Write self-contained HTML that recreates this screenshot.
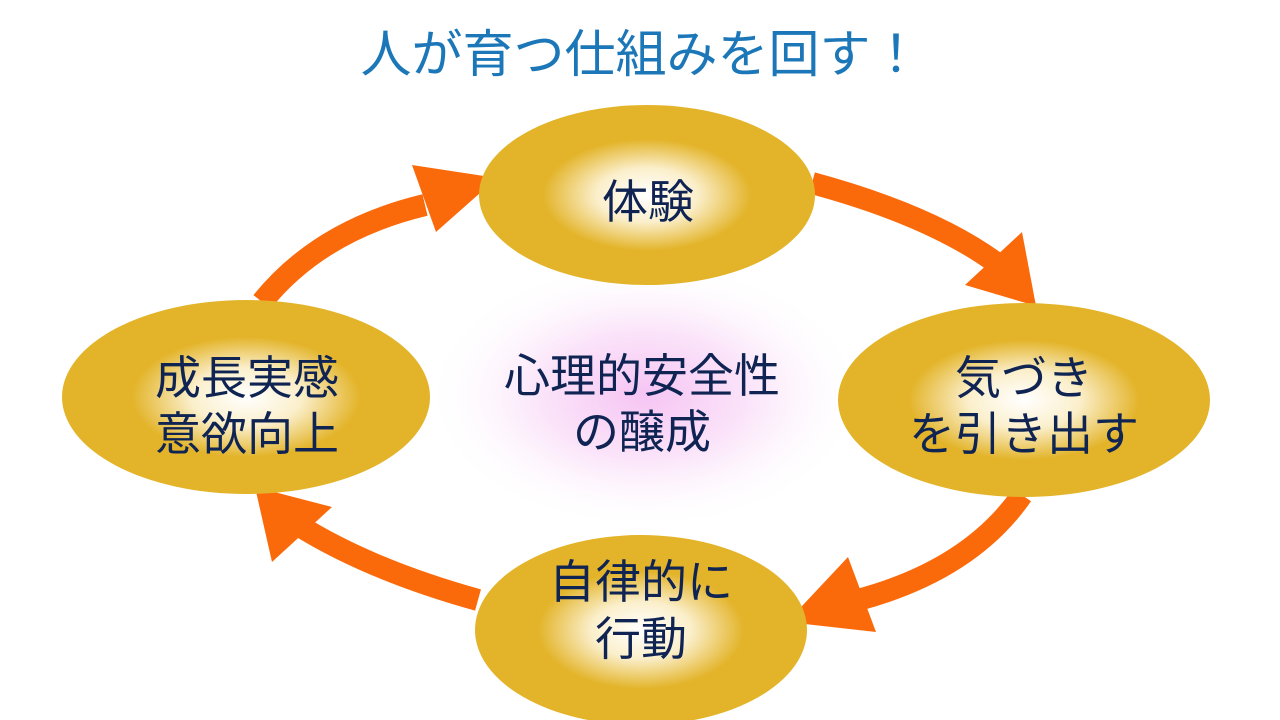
<!DOCTYPE html>
<html><head><meta charset="utf-8"><style>
body{margin:0;width:1280px;height:720px;background:#fff;overflow:hidden;font-family:"Liberation Sans","Noto Sans CJK JP",sans-serif}
svg{position:absolute;left:0;top:0}
</style></head><body>
<svg width="1280" height="720" viewBox="0 0 1280 720">
<defs>
<radialGradient id="g" cx="50%" cy="50%" r="50%">
<stop offset="0" stop-color="#fff"/><stop offset="0.3" stop-color="#fbefcb"/><stop offset="0.62" stop-color="#e3b42a"/><stop offset="1" stop-color="#e3b42a"/>
</radialGradient>
<radialGradient id="p" cx="50%" cy="50%" r="50%">
<stop offset="0" stop-color="#f6c4f3"/><stop offset="0.5" stop-color="#fbe6fa"/><stop offset="1" stop-color="#fff" stop-opacity="0"/>
</radialGradient>
</defs>
<ellipse cx="645" cy="395" rx="220" ry="135" fill="url(#p)"/>
<g fill="none" stroke="#fb6a0a" stroke-width="22">
<path d="M262 302 Q320 230 425 205"/>
<path d="M812 183 Q930 215 995 262"/>
<path d="M1022 495 Q970 570 858 600"/>
<path d="M478 600 Q370 570 298 525"/>
</g>
<g fill="#fb6a0a">
<polygon points="412,165 436,232 497,178"/>
<polygon points="965,285 1022,232 1036,306"/>
<polygon points="848,557 876,632 787,622"/>
<polygon points="255,487 272,562 332,507"/>
</g>
<ellipse cx="647" cy="195" rx="168" ry="90" fill="url(#g)"/>
<ellipse cx="1024" cy="400" rx="186" ry="97" fill="url(#g)"/>
<ellipse cx="641" cy="630" rx="166" ry="95" fill="url(#g)"/>
<ellipse cx="246" cy="397" rx="184" ry="97" fill="url(#g)"/>
<text x="641" y="72" text-anchor="middle" font-size="51" fill="#1c77b8" font-family="Liberation Sans,Noto Sans CJK JP,sans-serif">人が育つ仕組みを回す！</text>
<g fill="#0f2452" font-size="46" text-anchor="middle" font-family="Liberation Sans,Noto Sans CJK JP,sans-serif">
<text x="648" y="218">体験</text>
<text x="1024" y="394">気づき</text>
<text x="1024" y="450">を引き出す</text>
<text x="641" y="598">自律的に</text>
<text x="641" y="655">行動</text>
<text x="247" y="394">成長実感</text>
<text x="247" y="450">意欲向上</text>
<text x="642" y="392">心理的安全性</text>
<text x="642" y="448">の醸成</text>
</g>
</svg>
</body></html>
